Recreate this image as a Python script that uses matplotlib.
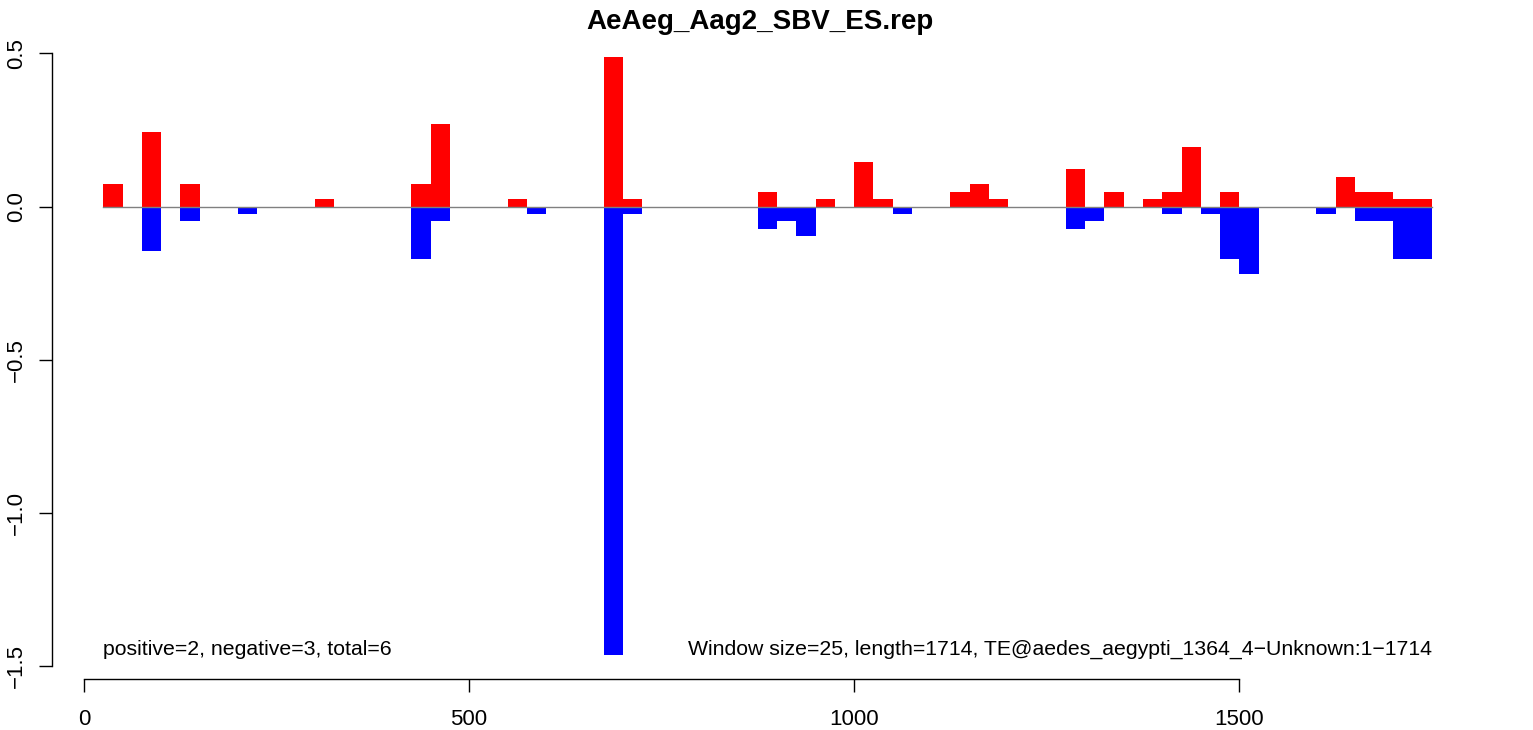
import numpy as np
import matplotlib
matplotlib.use('Agg')
import matplotlib.pyplot as plt

plt.rcParams['font.family'] = ['Liberation Sans', 'DejaVu Sans']

title = 'AeAeg_Aag2_SBV_ES.rep'
window = 25
left_note = 'positive=2, negative=3, total=6'
right_note = 'Window size=25, length=1714, TE@aedes_aegypti_1364_4\u2212Unknown:1\u22121714'

# window start positions and values
pos_start = [25, 75, 125, 300, 425, 450, 550, 675, 700, 875, 950, 1000, 1025,
             1125, 1150, 1175, 1275, 1325, 1375, 1400, 1425, 1475, 1625, 1650,
             1675, 1700, 1725]
pos_val = [0.0732, 0.2439, 0.0732, 0.0244, 0.0732, 0.2683, 0.0244, 0.4878, 0.0244,
           0.0488, 0.0244, 0.1463, 0.0244, 0.0488, 0.0732, 0.0244, 0.1220, 0.0488,
           0.0244, 0.0488, 0.1951, 0.0488, 0.0976, 0.0488, 0.0488, 0.0244, 0.0244]

neg_start = [75, 125, 200, 425, 450, 575, 675, 700, 875, 900, 925, 1050, 1275,
             1300, 1400, 1450, 1475, 1500, 1600, 1650, 1675, 1700, 1725]
neg_val = [-0.1463, -0.0488, -0.0244, -0.1707, -0.0488, -0.0244, -1.4634, -0.0244,
           -0.0732, -0.0488, -0.0976, -0.0244, -0.0732, -0.0488, -0.0244, -0.0244,
           -0.1707, -0.2195, -0.0244, -0.0488, -0.0488, -0.1707, -0.1707]

xticks = [0, 500, 1000, 1500]
yticks = [-1.5, -1.0, -0.5, 0.0, 0.5]

fig = plt.figure(figsize=(15.33, 7.30), dpi=100)
ax = fig.add_axes([52/1533, 1 - 679/730, (1468 - 52)/1533, (679 - 33)/730])

ax.bar(pos_start, pos_val, width=window, align='edge', color='red', linewidth=0)
ax.bar(neg_start, neg_val, width=window, align='edge', color='blue', linewidth=0)
ax.plot([25, 1750], [0, 0], color='grey', lw=1, zorder=3)

ax.set_xlim(-41.6, 1797)
ax.set_ylim(-1.541, 0.566)

for s in ['top', 'right']:
    ax.spines[s].set_visible(False)
ax.spines['bottom'].set_bounds(0, 1500)
ax.spines['left'].set_bounds(-1.5, 0.5)
for s in ['bottom', 'left']:
    ax.spines[s].set_linewidth(1.0)

ax.set_xticks(xticks)
ax.set_xticklabels([str(t) for t in xticks])
ax.set_yticks(yticks)
ax.set_yticklabels(['%.1f' % t if t >= 0 else '\u2212%.1f' % abs(t) for t in yticks],
                   rotation=90, va='center')
ax.tick_params(axis='both', length=9.5, width=1.0, labelsize=16, direction='out')
ax.tick_params(axis='x', pad=12)
ax.tick_params(axis='y', pad=8.5)

ax.text(25, -1.446, left_note, fontsize=15.3, ha='left', va='center')
ax.text(1750, -1.446, right_note, fontsize=15.3, ha='right', va='center')

fig.text(760/1533, 1 - 22/730, title, fontsize=20, fontweight='bold',
         ha='center', va='center')

fig.savefig('out.png', dpi=100)
